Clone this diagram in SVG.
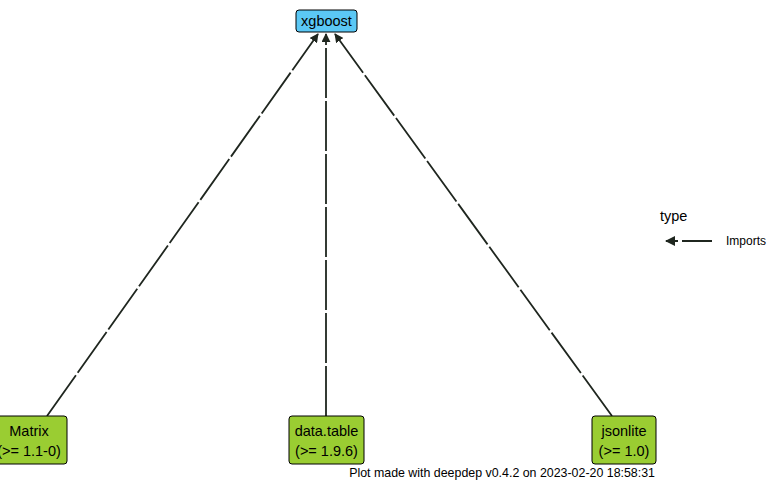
<svg xmlns="http://www.w3.org/2000/svg" width="768" height="480" viewBox="0 0 768 480">
<style>
.t{font-family:"Liberation Sans",Arial,sans-serif;fill:#000}
.edge{stroke:#1f261f;stroke-width:1.8;fill:none;stroke-dasharray:50 3;marker-end:url(#ah)}
.green{fill:#9acd32;stroke:#000;stroke-width:1}
.blue{fill:#5bc8f5;stroke:#000;stroke-width:1}
</style>
<defs>
<marker id="ah" viewBox="0 0 10 10" refX="9" refY="5" markerWidth="5" markerHeight="5" orient="auto" markerUnits="strokeWidth">
<path d="M0,0 L10,5 L0,10 z" fill="#1f261f"/>
</marker>
</defs>
<rect width="768" height="480" fill="#fff"/>
<g id="connectors">
<path class="edge" d="M47,416 L318,34"/>
<path class="edge" d="M326,416 L326,34"/>
<path class="edge" d="M612,416 L335,34"/>
</g>
<g id="node-xgboost">
<rect class="blue" x="296" y="10" width="61" height="22" rx="3"/>
<text class="t" x="326.5" y="26" font-size="14.5" text-anchor="middle">xgboost</text>
</g>
<g id="node-Matrix">
<rect class="green" x="-8" y="416" width="75" height="48" rx="3"/>
<text class="t" x="29" y="436" font-size="14.5" text-anchor="middle">Matrix</text>
<text class="t" x="29" y="456" font-size="14.5" text-anchor="middle">(&gt;= 1.1-0)</text>
</g>
<g id="node-data.table">
<rect class="green" x="289" y="416" width="75" height="48" rx="3"/>
<text class="t" x="326.5" y="436" font-size="14.5" text-anchor="middle">data.table</text>
<text class="t" x="326.5" y="456" font-size="14.5" text-anchor="middle">(&gt;= 1.9.6)</text>
</g>
<g id="node-jsonlite">
<rect class="green" x="592" y="416" width="64" height="48" rx="3"/>
<text class="t" x="624" y="436" font-size="14.5" text-anchor="middle">jsonlite</text>
<text class="t" x="624" y="456" font-size="14.5" text-anchor="middle">(&gt;= 1.0)</text>
</g>
<g id="legend">
<text class="t" x="660" y="221" font-size="14.5">type</text>
<path d="M712,241 L666,241" stroke="#1f261f" stroke-width="2" fill="none" stroke-dasharray="30 4" marker-end="url(#ah)"/>
<text class="t" x="726" y="245" font-size="12">Imports</text>
</g>
<text class="t" x="655" y="477" font-size="12.4" text-anchor="end">Plot made with deepdep v0.4.2 on 2023-02-20 18:58:31</text>
</svg>
